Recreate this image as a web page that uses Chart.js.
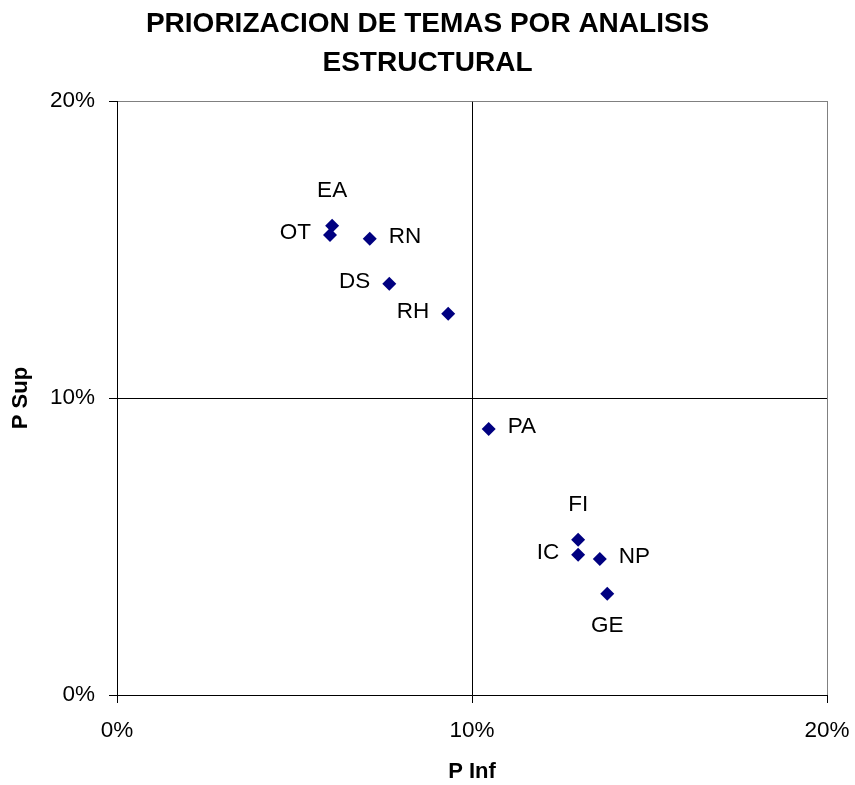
<!DOCTYPE html>
<html>
<head>
<meta charset="utf-8">
<script src="https://cdn.jsdelivr.net/npm/chart.js@4/dist/chart.umd.min.js"></script>
<style>
  body { margin: 0; background: #fff; }
</style>
</head>
<body>
<canvas id="chart" width="855" height="785"></canvas>
<script>
// temas y sus porcentajes
const temas = ['EA', 'OT', 'RN', 'DS', 'RH', 'PA', 'FI', 'IC', 'NP', 'GE'];
const pInf = [6.06, 6.00, 7.12, 7.67, 9.33, 10.47, 12.99, 12.99, 13.60, 13.81];
const pSup = [15.80, 15.49, 15.36, 13.85, 12.84, 8.96, 5.23, 4.72, 4.58, 3.41];
const tickVals = [0, 10, 20];

// donde va cada etiqueta respecto a su punto
const labelSide = ['above', 'left', 'right', 'left', 'left', 'right', 'above', 'left', 'right', 'below'];

const FONT = '"Liberation Sans", Arial, sans-serif';

const pointLabels = {
  id: 'pointLabels',
  afterDatasetsDraw(chart) {
    const ctx = chart.ctx;
    const meta = chart.getDatasetMeta(0);
    ctx.save();
    ctx.font = '22.5px ' + FONT;
    ctx.fillStyle = '#000';
    ctx.textBaseline = 'middle';
    meta.data.forEach((pt, i) => {
      const side = labelSide[i];
      let x = pt.x, y = pt.y;
      if (side === 'above') { ctx.textAlign = 'center'; y -= 35; }
      else if (side === 'below') { ctx.textAlign = 'center'; y += 32; }
      else if (side === 'left') { ctx.textAlign = 'right'; x -= 19; y -= 2; }
      else { ctx.textAlign = 'left'; x += 19; y -= 2; }
      ctx.fillText(temas[i], x, y);
    });
    ctx.restore();
  }
};

const gridColor = c => (c.tick && c.tick.value === 20 ? '#808080' : '#000');

new Chart(document.getElementById('chart').getContext('2d'), {
  type: 'scatter',
  data: {
    datasets: [{
      label: 'Temas',
      data: temas.map((t, i) => ({ x: pInf[i], y: pSup[i] })),
      pointStyle: 'rectRot',
      pointRadius: 7,
      pointBorderWidth: 0,
      backgroundColor: '#000080',
      borderColor: '#000080',
      clip: false
    }]
  },
  options: {
    responsive: false,
    animation: false,
    layout: { padding: 0 },
    plugins: {
      legend: { display: false },
      tooltip: { enabled: false },
      title: {
        display: true,
        text: ['PRIORIZACION DE TEMAS POR ANALISIS', 'ESTRUCTURAL'],
        color: '#000',
        font: { family: FONT, size: 28, weight: 'bold', lineHeight: 39 / 28 },
        padding: { top: 5, bottom: 18 }
      }
    },
    scales: {
      x: {
        type: 'linear',
        min: 0,
        max: 20,
        afterBuildTicks: s => { s.ticks = tickVals.map(v => ({ value: v })); },
        afterFit: s => { s.height = 90; s.paddingLeft = 0; s.paddingRight = 28; },
        border: { color: '#000', width: 1 },
        grid: { color: gridColor, tickColor: '#000', tickLength: 8, lineWidth: 1 },
        ticks: {
          color: '#000',
          padding: 14,
          maxRotation: 0,
          font: { family: FONT, size: 22.5 },
          callback: v => v + '%'
        },
        title: {
          display: true,
          text: 'P Inf',
          color: '#000',
          font: { family: FONT, size: 22, weight: 'bold' },
          padding: { top: 0, bottom: 0 }
        }
      },
      y: {
        type: 'linear',
        min: 0,
        max: 20,
        afterBuildTicks: s => { s.ticks = tickVals.map(v => ({ value: v })); },
        afterFit: s => { s.width = 117; },
        border: { color: '#000', width: 1 },
        grid: { color: gridColor, tickColor: '#000', tickLength: 8, lineWidth: 1 },
        ticks: {
          color: '#000',
          padding: 14,
          font: { family: FONT, size: 22.5 },
          callback: v => v + '%'
        },
        title: {
          display: true,
          text: 'P Sup',
          color: '#000',
          font: { family: FONT, size: 22, weight: 'bold' },
          padding: { top: 8, bottom: 0 }
        }
      }
    }
  },
  plugins: [pointLabels]
});
</script>
</body>
</html>
